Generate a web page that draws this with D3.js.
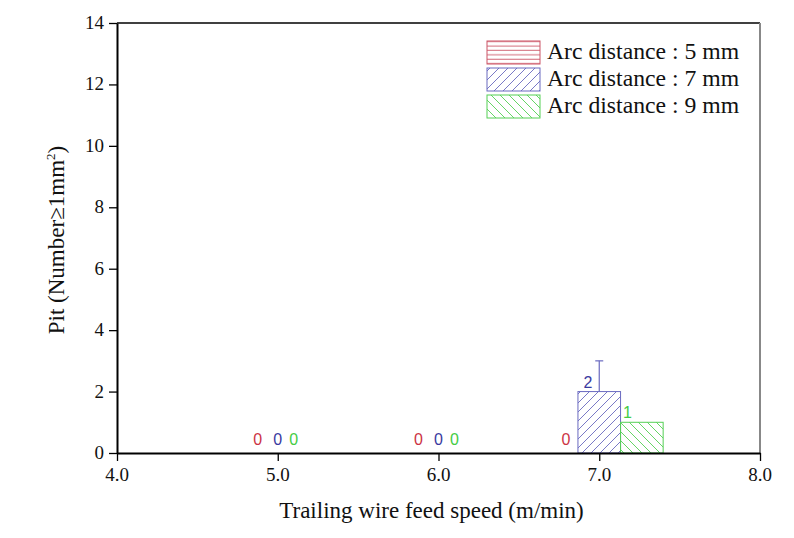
<!DOCTYPE html>
<html><head><meta charset="utf-8">
<script src="https://cdn.jsdelivr.net/npm/d3@7"></script>
<style>body{margin:0;background:#fff}</style>
</head><body>
<svg id="c" width="794" height="538"></svg>
<script>
const categories = [5.0, 6.0, 7.0];
const seriesNames = ["Arc distance : 5 mm", "Arc distance : 7 mm", "Arc distance : 9 mm"];
const arc5 = [0, 0, 0];
const arc7 = [0, 0, 2];
const arc9 = [0, 0, 1];
const arc7Err = [0, 0, 1];
const xTicks = [4.0, 5.0, 6.0, 7.0, 8.0];
const yTicks = [0, 2, 4, 6, 8, 10, 12, 14];

const series = [
  {name: seriesNames[0], values: arc5, err: null, stroke: "#cc5566", label: "#cc3344", pat: "hatchH"},
  {name: seriesNames[1], values: arc7, err: arc7Err, stroke: "#6a6ac0", label: "#3a3aa0", pat: "hatchF"},
  {name: seriesNames[2], values: arc9, err: null, stroke: "#55d055", label: "#44cc44", pat: "hatchB"}
];

const SERIF = "Liberation Serif";
const SANS = "Liberation Sans";

const svg = d3.select("#c");
const L = 117, R = 760, T = 23, B = 453;
const x = d3.scaleLinear().domain([4, 8]).range([L, R]);
const y = d3.scaleLinear().domain([0, 14]).range([B, T]);
const bw = 0.265;

// patterns
const defs = svg.append("defs");
function pat(id, color, d, w, h) {
  const p = defs.append("pattern").attr("id", id).attr("patternUnits", "userSpaceOnUse")
    .attr("width", w).attr("height", h);
  p.append("path").attr("d", d).attr("stroke", color).attr("stroke-width", 0.9).attr("fill", "none");
}
pat("hatchH", series[0].stroke, "M0,2 H8", 8, 4.4);
pat("hatchF", series[1].stroke, "M-2,2 L2,-2 M0,9 L9,0 M7,11 L11,7", 9, 9);
pat("hatchB", series[2].stroke, "M-2,7 L2,11 M0,0 L9,9 M7,-2 L11,2", 9, 9);

// frame
svg.append("line").attr("x1", L).attr("x2", R).attr("y1", T).attr("y2", T).attr("stroke", "#000").attr("stroke-width", 1.5);
svg.append("line").attr("x1", R).attr("x2", R).attr("y1", T).attr("y2", B).attr("stroke", "#888").attr("stroke-width", 2);

// bars
series.forEach((s, i) => {
  const g = svg.append("g");
  categories.forEach((c, j) => {
    const v = s.values[j];
    const cx = c + (i - 1) * bw;
    if (v > 0) {
      g.append("rect").attr("x", x(cx - bw / 2)).attr("width", x(cx + bw / 2) - x(cx - bw / 2))
        .attr("y", y(v)).attr("height", y(0) - y(v))
        .attr("fill", "url(#" + s.pat + ")").attr("stroke", s.stroke).attr("stroke-width", 1);
      if (s.err && s.err[j] > 0) {
        g.append("line").attr("x1", x(cx)).attr("x2", x(cx)).attr("y1", y(v)).attr("y2", y(v + s.err[j]))
          .attr("stroke", s.stroke).attr("stroke-width", 1.2);
        g.append("line").attr("x1", x(cx) - 4).attr("x2", x(cx) + 4).attr("y1", y(v + s.err[j])).attr("y2", y(v + s.err[j]))
          .attr("stroke", s.stroke).attr("stroke-width", 1.2);
      }
    }
  });
});

// value labels
categories.forEach((c, j) => {
  const anyNonZero = series.some(s => s.values[j] > 0);
  series.forEach((s, i) => {
    const v = s.values[j];
    const cx = c + (i - 1) * bw;
    let lx, ly;
    if (!anyNonZero) {
      lx = x(c) + [-20, 0, 16][i];
      ly = y(0) - 8;
    } else if (v === 0) {
      lx = x(cx + bw / 2) - 12;
      ly = y(0) - 8;
    } else {
      lx = x(cx - bw / 2) + (i === 1 ? 10 : 7);
      ly = y(v) - 4;
    }
    svg.append("text").attr("x", lx).attr("y", ly).attr("text-anchor", "middle")
      .attr("font-family", SANS).attr("font-size", 16)
      .attr("fill", s.label).text(String(v));
  });
});

// axes (lines from d3 axes, labels drawn from the same scales)
const xAxis = svg.append("g").attr("transform", `translate(0,${B})`)
  .call(d3.axisBottom(x).tickValues(xTicks).tickFormat(() => "").tickSize(8).tickSizeOuter(0));
const yAxis = svg.append("g").attr("transform", `translate(${L},0)`)
  .call(d3.axisLeft(y).tickValues(yTicks).tickFormat(() => "").tickSize(8).tickSizeOuter(0));
[xAxis, yAxis].forEach(a => {
  a.select(".domain").attr("stroke", "#000").attr("stroke-width", 2);
  a.selectAll(".tick line").attr("stroke", "#000").attr("stroke-width", 1.3);
});
const fx = d3.format(".1f");
svg.append("g").selectAll("text").data(xTicks).join("text")
  .attr("x", d => x(d)).attr("y", B + 28).attr("text-anchor", "middle")
  .attr("font-family", SERIF).attr("font-size", 19).attr("fill", "#111").text(d => fx(d));
svg.append("g").selectAll("text").data(yTicks).join("text")
  .attr("x", L - 13).attr("y", d => y(d) + 6).attr("text-anchor", "end")
  .attr("font-family", SERIF).attr("font-size", 19).attr("fill", "#111").text(d => String(d));

// titles
svg.append("text").attr("x", (L + R) / 2 - 7).attr("y", 518).attr("text-anchor", "middle")
  .attr("font-family", SERIF).attr("font-size", 23).attr("fill", "#111")
  .text("Trailing wire feed speed (m/min)");
const yt = svg.append("text").attr("transform", `translate(64,${(T + B) / 2 + 2}) rotate(-90)`)
  .attr("text-anchor", "middle").attr("font-family", SERIF)
  .attr("font-size", 23).attr("fill", "#111");
yt.append("tspan").text("Pit (Number\u22651mm");
yt.append("tspan").attr("font-size", 13).attr("dy", -9).text("2");
yt.append("tspan").attr("dy", 9).text(")");

// legend
const lg = svg.append("g");
series.forEach((s, i) => {
  const ty = 41 + i * 27;
  lg.append("rect").attr("x", 487).attr("y", ty).attr("width", 53).attr("height", 23)
    .attr("fill", "url(#" + s.pat + ")").attr("stroke", s.stroke).attr("stroke-width", 1);
  lg.append("text").attr("x", 547).attr("y", ty + 18)
    .attr("font-family", SERIF).attr("font-size", 23.7).attr("fill", "#111")
    .text(s.name);
});
</script>
</body></html>
